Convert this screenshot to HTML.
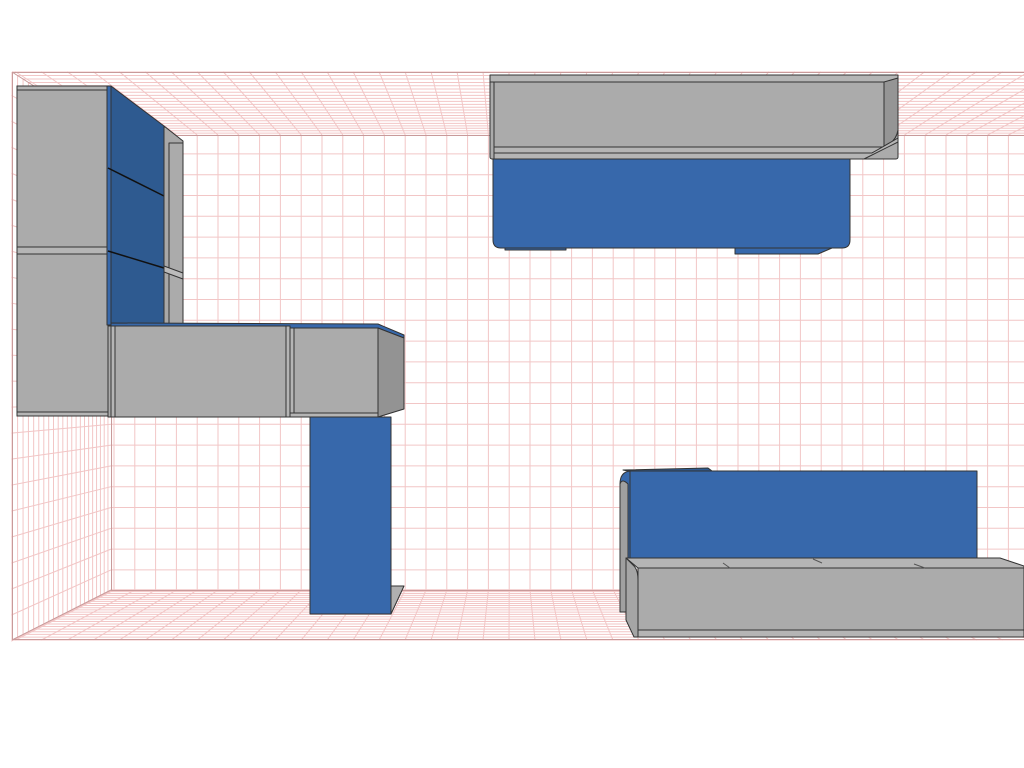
<!DOCTYPE html>
<html><head><meta charset="utf-8"><style>
html,body{margin:0;padding:0;background:#fff;}
svg{display:block;}
</style></head><body>
<svg id="s" width="1024" height="768" viewBox="0 0 1024 768" xmlns="http://www.w3.org/2000/svg">
<g id="grid" stroke="#f2c6c6" stroke-width="1" fill="none"></g>
<g stroke="#c89a9a" stroke-width="1" fill="none">
<rect x="12.5" y="72.5" width="1020" height="567"/>
<polyline points="1024,135.5 111.5,135.5 111.5,590.5 1024,590.5"/>
<line x1="12" y1="72" x2="111" y2="135"/>
<line x1="12" y1="640" x2="111" y2="590"/>
</g>
<g stroke="#333" stroke-width="1" stroke-linejoin="round">
<!-- left tall cabinet -->
<rect x="17" y="86" width="91" height="330" fill="#ababab"/>
<rect x="17" y="86" width="91" height="4" fill="#b5b5b5"/>
<rect x="17" y="247" width="91" height="7" fill="#b5b5b5"/>
<rect x="17" y="412" width="91" height="4" fill="#b5b5b5"/>
<polygon points="108,86 111,86 164,126 164,325 108,325" fill="#2e5a90"/>
<rect x="107" y="86" width="4" height="239" fill="#3768ab"/>
<line x1="108" y1="168" x2="164" y2="196" stroke="#111" stroke-width="1.5"/>
<line x1="108" y1="251" x2="164" y2="268" stroke="#111" stroke-width="1.5"/>
<polygon points="164,126 183,141 183,325 164,325" fill="#a8a8a8"/>
<rect x="169" y="143" width="14" height="182" fill="#ababab"/>
<polygon points="164,266 183,273 183,279 164,272" fill="#bbb"/>
<!-- desk -->
<polygon points="111,323 378,324 404,335 404,338 378,328 111,328" fill="#3768ab"/>
<rect x="108" y="326" width="182" height="91" fill="#ababab"/>
<rect x="111" y="326" width="4" height="91" fill="#b5b5b5"/>
<rect x="286" y="326" width="4" height="91" fill="#b5b5b5"/>
<rect x="290" y="328" width="88" height="89" fill="#ababab"/>
<rect x="290" y="328" width="4" height="89" fill="#b5b5b5"/>
<rect x="290" y="413" width="88" height="4" fill="#b5b5b5"/>
<polygon points="378,328 404,338 404,409 378,417" fill="#939393"/>
<rect x="310" y="417" width="81" height="197" fill="#3768ab"/>
<polygon points="391,586 404,586 391,614" fill="#b0b0b0"/>
<!-- top right unit -->
<rect x="490" y="75" width="408" height="84" fill="#ababab" rx="2"/>
<rect x="490" y="75" width="408" height="7" fill="#b5b5b5"/>
<rect x="494" y="82" width="390" height="65" fill="#ababab"/>
<path d="M884,82 L898,78 L898,130 Q896,142 884,147 Z" fill="#959595"/>
<polygon points="494,147 884,147 872,153 494,153" fill="#b5b5b5"/>
<polygon points="494,153 872,153 898,138 898,142 864,159 494,159" fill="#b5b5b5"/>
<path d="M493,159 H850 V240 Q850,248 842,248 H501 Q493,248 493,240 Z" fill="#3768ab"/>
<rect x="505" y="248" width="61" height="2" fill="#3768ab"/>
<polygon points="735,248 832,248 818,254 735,254" fill="#3768ab"/>
<!-- bottom right unit -->
<polygon points="623,470 708,468 712,471 628,471" fill="#2e5a90"/>
<path d="M628,471 H977 V558 H628 Z" fill="#3768ab"/>
<path d="M620,484 Q620,472 630,471 L630,610 L620,610 Z" fill="#3768ab"/>
<path d="M620,484 Q622,478 628,484 L628,558 L626,558 L626,612 L620,612 Z" fill="#a0a0a0"/>
<polygon points="626,558 1000,558 1024,566 1024,568 638,568" fill="#b5b5b5"/>
<rect x="638" y="568" width="386" height="62" fill="#ababab"/>
<rect x="638" y="630" width="386" height="7" fill="#b5b5b5"/>
<path d="M626,558 L634,566 Q638,570 638,580 L638,637 L634,637 L626,620 Z" fill="#a5a5a5"/>
<line x1="723" y1="563" x2="730" y2="568" stroke="#555"/>
<line x1="813" y1="559" x2="822" y2="563" stroke="#555"/>
<line x1="914" y1="564" x2="925" y2="568" stroke="#555"/>
</g>
</svg>
<script>
(function(){
var ns="http://www.w3.org/2000/svg",g=document.getElementById("grid");
function L(x1,y1,x2,y2,c){var l=document.createElementNS(ns,"line");l.setAttribute("x1",x1);l.setAttribute("y1",y1);l.setAttribute("x2",x2);l.setAttribute("y2",y2);if(c)l.setAttribute("stroke",c);g.appendChild(l);}
var VX=510,VY=389,sp=20.8;
// back wall
for(var x=114;x<1024;x+=sp){L(x,135,x,590);}
for(var y=590.7;y>135;y-=sp){L(111,y,1024,y);}
// depth scales
var N=22,ss=[];for(var i=0;i<=N;i++){var t=i/N;ss.push(1/(1+t*0.25));}
ss.forEach(function(s){
 var xl=VX+(12-VX)*s, yt=VY+(72-VY)*s, yb=VY+(640-VY)*s;
 L(xl,yt,1024,yt); L(xl,yb,1024,yb); L(xl,yt,xl,yb);
});
// converging lines
for(var x=114;x<1100;x+=sp){
 var s0=1.25; L(VX+(x-VX)*s0,VY+(135-VY)*s0,x,135); L(VX+(x-VX)*s0,VY+(590-VY)*s0,x,590);
}
for(var y=590.7;y>135;y-=sp){var s0=1.25;L(VX+(111-VX)*s0,VY+(y-VY)*s0,111,y);}
})();
</script>
</body></html>
